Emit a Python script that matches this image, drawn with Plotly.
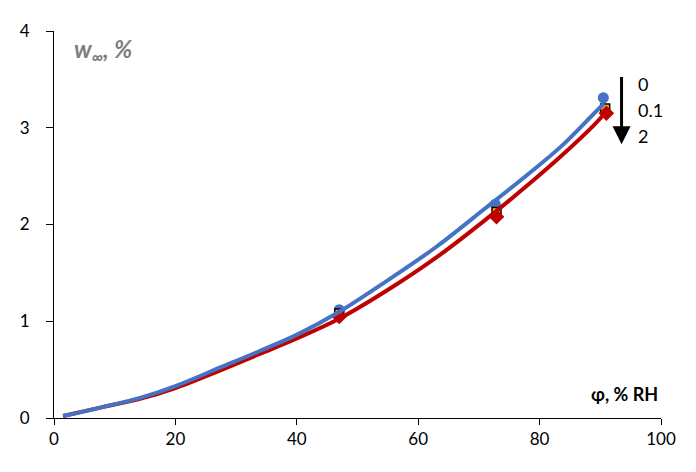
import plotly.graph_objects as go

# Fitted curves
curve0_x = [1.5, 7.8, 14.3, 20, 27.3, 33.8, 40.3, 46.8, 54.9, 63, 71.1, 78.1, 83.6, 89, 90.6]
curve0_y = [0.02, 0.11, 0.21, 0.33, 0.52, 0.69, 0.87, 1.09, 1.42, 1.77, 2.17, 2.52, 2.81, 3.15, 3.25]
curve2_x = [1.5, 7.8, 14.3, 20, 27.3, 33.8, 40.3, 46.8, 54.9, 63, 71.1, 78.1, 83.6, 89, 90.9]
curve2_y = [0.02, 0.11, 0.20, 0.31, 0.49, 0.66, 0.83, 1.02, 1.32, 1.66, 2.05, 2.41, 2.71, 3.03, 3.16]

# Measured points
pts0_x = [47, 72.7, 90.5]
pts0_y = [1.12, 2.21, 3.31]
pts01_x = [47, 72.9, 90.8]
pts01_y = [1.08, 2.13, 3.20]
pts2_x = [47, 72.9, 91]
pts2_y = [1.05, 2.08, 3.15]

legend_labels = ["0", "0.1", "2"]
legend_y = [3.45, 3.18, 2.91]

blue = "#4472C4"
red = "#C00000"
orange = "#FFC000"

fig = go.Figure()
fig.add_trace(go.Scatter(x=pts0_x, y=pts0_y, mode="markers",
                         marker=dict(symbol="circle", size=11, color=blue)))
fig.add_trace(go.Scatter(x=pts01_x, y=pts01_y, mode="markers",
                         marker=dict(symbol="square", size=9, color=orange,
                                     line=dict(color="black", width=1.5))))
fig.add_trace(go.Scatter(x=pts2_x, y=pts2_y, mode="markers",
                         marker=dict(symbol="diamond", size=12, color=red)))
fig.add_trace(go.Scatter(x=curve2_x, y=curve2_y, mode="lines",
                         line=dict(color=red, width=4, shape="spline", smoothing=1)))
fig.add_trace(go.Scatter(x=curve0_x, y=curve0_y, mode="lines",
                         line=dict(color=blue, width=4, shape="spline", smoothing=1)))

annotations = [
    dict(x=2.9, y=3.8, xref="x", yref="y", xanchor="left", yanchor="middle",
         text="<b><i>w<sub>∞</sub>, %</i></b>", showarrow=False,
         font=dict(size=24, color="#7F7F7F", family="Lato")),
    dict(x=99.8, y=0.25, xref="x", yref="y", xanchor="right", yanchor="middle",
         text="<b>φ, % RH</b>", showarrow=False,
         font=dict(size=18, color="black", family="Lato")),
    dict(x=93.5, y=2.83, ax=93.5, ay=3.54, xref="x", yref="y", axref="x", ayref="y",
         text="", showarrow=True, arrowhead=2, arrowsize=1.2, arrowwidth=3,
         arrowcolor="black"),
]
for lab, yy in zip(legend_labels, legend_y):
    annotations.append(dict(x=95.9, y=yy, xref="x", yref="y", xanchor="left",
                            yanchor="middle", text=lab, showarrow=False,
                            font=dict(size=18, color="black", family="Lato")))

fig.update_layout(
    width=680, height=456,
    margin=dict(l=44, r=20, t=12, b=46),
    paper_bgcolor="white", plot_bgcolor="white",
    showlegend=False,
    annotations=annotations,
    font=dict(family="Lato", size=17, color="black"),
    xaxis=dict(range=[0, 100], dtick=20, showgrid=False, zeroline=False,
               showline=True, linecolor="black", linewidth=1,
               ticks="outside", ticklen=6, tickcolor="black"),
    yaxis=dict(range=[0, 4], dtick=1, showgrid=False, zeroline=False,
               showline=True, linecolor="black", linewidth=1,
               ticks="outside", ticklen=7, tickcolor="black",
               ticksuffix="\u00a0\u00a0\u00a0"),
)

fig.write_html("out.html")
